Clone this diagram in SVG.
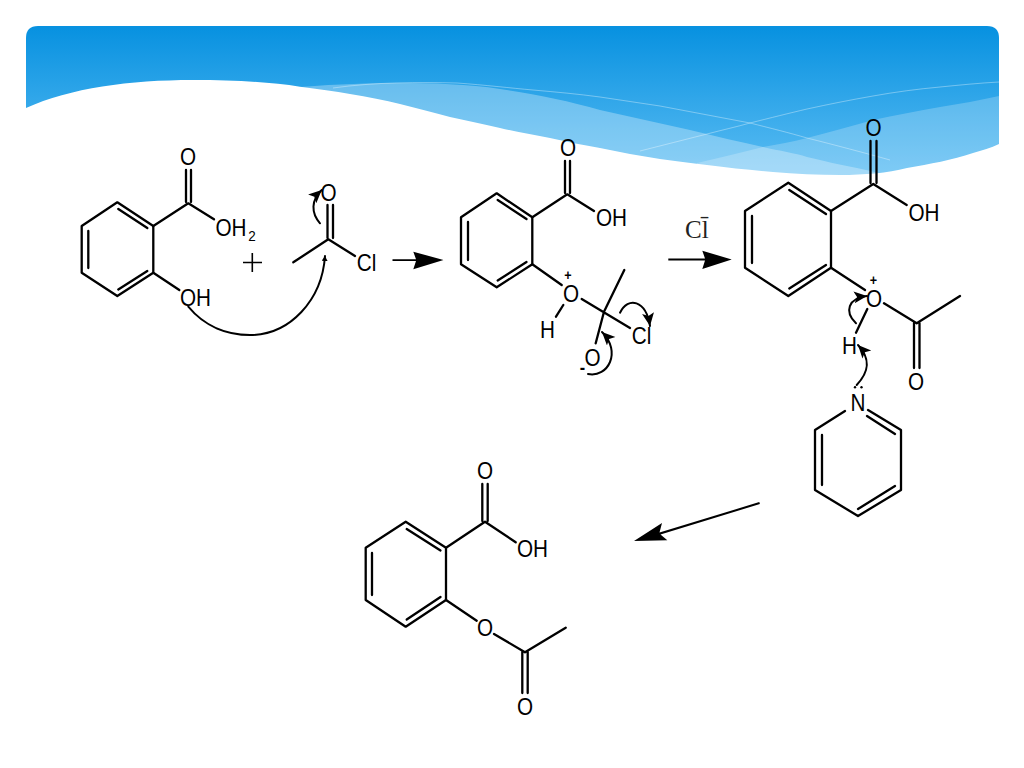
<svg xmlns="http://www.w3.org/2000/svg" width="1024" height="768" viewBox="0 0 1024 768">
<style>
.b{fill:none;stroke:#000;stroke-width:2.3;stroke-linecap:round;stroke-linejoin:round}
.c{fill:none;stroke:#000;stroke-width:2;stroke-linecap:round}
.t{font-family:"Liberation Sans",Arial,sans-serif;font-size:23px;fill:#000;text-anchor:middle;transform-box:fill-box;transform-origin:center;transform:scaleX(.9)}
.p{font-size:14px;font-weight:bold}
.s{font-family:"Liberation Serif","Times New Roman",serif;font-size:25px;fill:#222}
.a{fill:#000}
.thin{fill:none;stroke:#fff;stroke-opacity:.35;stroke-width:1}
</style>
<defs>
<linearGradient id="sky" x1="0" y1="26" x2="0" y2="176" gradientUnits="userSpaceOnUse">
<stop offset="0" stop-color="#0791e0"/><stop offset="1" stop-color="#5cbdf3"/>
</linearGradient>
<marker id="ch" markerUnits="userSpaceOnUse" markerWidth="16" markerHeight="14" refX="13" refY="6" orient="auto">
<path d="M0,0 L13,6 L0,12 L3,6 Z" fill="#000"/>
</marker>
<marker id="sm" markerUnits="userSpaceOnUse" markerWidth="8" markerHeight="8" refX="5" refY="3" orient="auto">
<path d="M0,0 L5,3 L0,6 Z" fill="#000"/>
</marker>
</defs>
<g id="banner">
<path d="M26,190 V38 Q26,26 38,26 H987 Q999,26 999,38 V190 Z" fill="url(#sky)"/>
<path d="M300,87 C340,84 370,83 400,83 C430,83 470,84 500,89 C530,93 570,101 600,110 C630,117 660,123 690,130 C715,136 740,142 763,147 C780,151 795,153 807,157 C825,161 840,165 857,168 C870,171 885,174 900,178 L700,190 H300 Z" fill="#fff" fill-opacity=".3"/>
<path d="M697,163 C720,158 742,152 763,147 C778,144 792,142 807,138 C830,132 852,126 873,120 C895,115 918,111 940,107 C960,104 980,100 999,96 V190 H697 Z" fill="#fff" fill-opacity=".22"/>
<path class="thin" d="M333,88 C375,82 420,82 457,83 C485,85 510,88 533,90 C556,92 578,94 600,97 C620,100 640,103 660,106 C690,112 720,117 750,123 C770,128 790,133 807,138 C835,145 865,153 890,160"/>
<path class="thin" d="M640,151 C662,145 685,140 707,134 C722,130 736,127 750,123 C770,118 790,113 807,109 C830,104 850,100 873,96 C895,92 918,89 940,87 C960,85 980,83 999,82"/>
<path d="M26,108 C70,88 130,80 193,80 C235,80 270,82 300,86.7 C318,89 335,91 350,94 C368,97 385,100 400,104 C417,108 434,113 450,117 C467,121 484,124 500,128 C517,132 534,135 550,138 C567,142 584,145 600,148 C620,152 640,156 660,159 C675,161 690,163 707,165 C730,168 750,170 773,172 C795,174 818,175 840,175 C865,175 887,173 907,168 C930,164 952,160 973,153 C982,150 991,148 999,144 V200 H26 Z" fill="#fff"/>
</g>
<g id="salicylic-acid">
<path class="b" d="M117.3,202.3 L153.3,226 V272.7 L117.3,296 L81.7,272.7 V226 Z"/>
<path class="b" d="M118.3,209 L147.3,228 M88.3,231 V268 M118.3,289.5 L147.3,271"/>
<path class="b" d="M153.3,226 L188.3,203.3 L214,219.3 M186,202 V170 M191,202 V170 M153.3,272.7 L179.3,290"/>
<text class="t" x="188" y="165.5">O</text>
<text class="t" x="231" y="236.5">OH</text>
<text class="t" x="252" y="241" style="font-size:15px">2</text>
<text class="t" x="195.5" y="306">OH</text>
</g>
<g id="plus"><path d="M252.3,253 V272 M243,262.5 H262" fill="none" stroke="#000" stroke-width="1.6"/></g>
<g id="acetyl-chloride">
<path class="b" d="M293.3,262.3 L328.3,239.3 L355,256 M327.5,238 V205 M333,238 V205"/>
<text class="t" x="328.5" y="201">O</text>
<text class="t" x="366.5" y="271.5">Cl</text>
</g>
<g id="intermediate">
<path class="b" d="M496.7,193.3 L532.3,217.3 V264.3 L496.7,287.3 L461,264.3 V217.3 Z"/>
<path class="b" d="M497.7,200 L526.5,219 M468,222 V260 M497.7,280.5 L526.5,262"/>
<path class="b" d="M532.3,217.3 L567.3,194.3 L594,211 M565,193 V161 M570,193 V161 M532.3,264.3 L561.7,285 M563.3,305 L556,316.7 M581.7,299 L630,328 M604,311.7 L624.3,270 M604,311.7 L595.7,343.3"/>
<text class="t" x="568" y="156.5">O</text>
<text class="t" x="611.5" y="226.5">OH</text>
<text class="t" x="571" y="302.5">O</text>
<text class="t p" x="568" y="280">+</text>
<text class="t" x="547.5" y="338.5">H</text>
<text class="t" x="641.5" y="344.5">Cl</text>
<text class="t" x="592.5" y="366.5">O</text>
<text class="t" x="582.5" y="374" style="font-size:18px;font-weight:bold">-</text>
</g>
<g id="chloride">
<text class="s" x="685" y="238">Cl&#x304;</text>
</g>
<g id="protonated-ester">
<path class="b" d="M788.3,182.7 L831,211 V267.7 L788.3,296 L745,267.7 V211 Z"/>
<path class="b" d="M789.3,190 L826,214 M752,216 V263 M789.3,288.5 L826,265"/>
<path class="b" d="M831,211 L873.3,184 L906.7,205 M870.5,183 V141 M876.5,183 V141 M831,267.7 L865,290 M884,303.3 L916.7,323.3 L960,296 M914,323 V368 M919.5,323 V368 M867.3,309 L856,332.7"/>
<text class="t" x="873.5" y="136.5">O</text>
<text class="t" x="924" y="221">OH</text>
<text class="t" x="874" y="307">O</text>
<text class="t p" x="873.5" y="285">+</text>
<text class="t" x="849.5" y="354.5">H</text>
<text class="t" x="916" y="390">O</text>
</g>
<g id="pyridine">
<path class="b" d="M845,411 L815,430 V490 L858,516 L901,490 V430 L868,410 M867,416 L895,434 M822,435 V485 M858,509 L895,486"/>
<text class="t" x="858" y="411.5">N</text>
<circle class="a" cx="855" cy="387.3" r="1.2"/><circle class="a" cx="861.5" cy="387.3" r="1.2"/>
</g>
<g id="aspirin">
<path class="b" d="M405.7,521.7 L446,547.7 V600 L405.7,626.7 L365.7,600 V547.7 Z"/>
<path class="b" d="M406.7,529 L440.5,550.5 M372,553 V595 M406.7,619.5 L440.5,597"/>
<path class="b" d="M446,547.7 L485,521.7 L515.7,542.3 M482.3,521 V484 M487.7,521 V484 M446,600 L476.7,620.7 M494,634 L525,652.3 L565.7,627.7 M522.3,652 V693 M527.7,652 V693"/>
<text class="t" x="485" y="479">O</text>
<text class="t" x="532.5" y="557.5">OH</text>
<text class="t" x="485" y="636.5">O</text>
<text class="t" x="525" y="715">O</text>
</g>
<g id="connectors">
<path class="a" d="M392.5,259.2 H416 L413.3,251.7 L443.5,260 L413.3,269.3 L416,261 H392.5 Z"/>
<path class="a" d="M668.3,258.4 H705 L702.3,250.7 L731.7,259.5 L702.3,269 L705,260.4 H668.3 Z"/>
<path class="a" d="M759.3,502.1 L759.9,504 L660.5,534.5 L667.3,540.3 L634,541 L662,523 L659.5,532.5 Z"/>
<path class="c" d="M188.3,306.7 C205,327 228,335 250,335 C290,335 322,300 325,256" marker-end="url(#sm)"/>
<path class="c" d="M320,223.3 C311,213 311,200 321.7,190" marker-end="url(#ch)"/>
<path class="c" d="M620,312.7 C628,296 646,300 650,326" marker-end="url(#ch)"/>
<path class="c" d="M588,374 C608,378 622,352 602,332" marker-end="url(#ch)"/>
<path class="c" d="M856,323.3 C844,312 848,298 867,296" marker-end="url(#ch)"/>
<path class="c" d="M856.7,385 C868,373 872,360 858,345" marker-end="url(#ch)"/>
</g>
</svg>
